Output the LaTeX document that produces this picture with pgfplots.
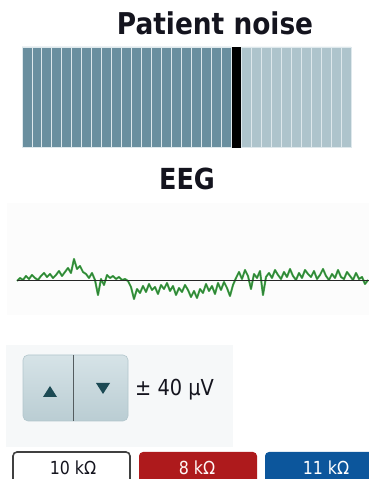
\documentclass[border=0pt]{standalone}
\usepackage{pgfplots}
\pgfplotsset{compat=1.18}
\usepackage{fontspec}
\setmainfont{DejaVu Sans}
\newfontfamily\uifont[FakeStretch=0.88]{DejaVu Sans}
\definecolor{bardark}{RGB}{106,143,159}
\definecolor{barlight}{RGB}{174,196,204}
\definecolor{barsep}{RGB}{222,232,236}
\definecolor{eeggreen}{RGB}{70,165,75}
\definecolor{eegdark}{RGB}{40,120,50}
\definecolor{panelbg}{RGB}{246,248,249}
\definecolor{btntop}{RGB}{214,227,231}
\definecolor{btnbot}{RGB}{186,205,211}
\definecolor{btnborder}{RGB}{178,198,204}
\definecolor{tri}{RGB}{28,74,84}
\definecolor{impred}{RGB}{174,26,28}
\definecolor{impblue}{RGB}{12,86,156}
\definecolor{textdark}{RGB}{20,20,30}
\pgfplotstableread{
x y
17 0
20 3
23 1
26 5
29 2
32 6
35 3
38 1
41 5
44 8
47 4
50 7
53 3
56 6
59 10
62 5
65 9
68 13
71 8
74 22
77 12
80 15
83 9
86 7
89 3
92 8
95 1
98 -14
101 2
104 -4
107 6
110 3
113 5
116 2
119 4
122 1
125 2
128 0
131 -6
134 -18
137 -8
140 -12
143 -5
146 -11
149 -3
152 -9
155 -6
158 -13
161 -4
164 -8
167 -2
170 -10
173 -5
176 -14
179 -7
182 -11
185 -4
188 -9
191 -16
194 -10
197 -17
200 -8
203 -12
206 -3
209 -10
212 -5
215 -13
218 -2
221 -9
224 -1
227 -7
230 -15
233 -4
236 3
239 9
242 2
245 11
248 5
251 -8
254 7
257 3
260 10
263 -14
266 4
269 8
272 3
275 11
278 6
281 2
284 9
287 4
290 12
293 5
296 1
299 8
302 3
305 11
308 7
311 4
314 10
317 2
320 6
323 12
326 5
329 1
332 7
335 3
338 11
341 4
344 2
347 9
350 5
353 1
356 8
359 2
362 4
365 -3
368 1
}\eegdata
\begin{document}
\begin{tikzpicture}[x=1pt,y=1pt]
\useasboundingbox (0,0) rectangle (369,479);
\clip (0,0) rectangle (369,479);
% title
\node[anchor=base, inner sep=0pt, text=textdark] at (215,444) {\uifont\bfseries\fontsize{30}{36}\selectfont Patient noise};
% noise meter
\begin{scope}[shift={(22pt,332pt)}]
\begin{axis}[at={(0pt,0pt)}, anchor=south west, scale only axis, width=329pt, height=100pt,
  xmin=0, xmax=33, ymin=0, ymax=1, hide axis, clip=false]
\addplot[ybar, bar width=1, bar shift=0, fill=bardark, draw=barsep, line width=0.9pt] coordinates {
(0.5,1) (1.5,1) (2.5,1) (3.5,1) (4.5,1) (5.5,1) (6.5,1) (7.5,1) (8.5,1) (9.5,1) (10.5,1)
(11.5,1) (12.5,1) (13.5,1) (14.5,1) (15.5,1) (16.5,1) (17.5,1) (18.5,1) (19.5,1) (20.5,1)};
\addplot[ybar, bar width=1, bar shift=0, fill=barlight, draw=barsep, line width=0.9pt] coordinates {
(22.5,1) (23.5,1) (24.5,1) (25.5,1) (26.5,1) (27.5,1) (28.5,1) (29.5,1) (30.5,1) (31.5,1) (32.5,1)};
\addplot[ybar, bar width=0.85, bar shift=0, fill=black, draw=black, line width=0.3pt] coordinates {(21.5,1)};
\end{axis}
\end{scope}
% EEG
\node[anchor=base, inner sep=0pt, text=textdark] at (187,289) {\uifont\bfseries\fontsize{29}{35}\selectfont EEG};
\fill[white!98!gray] (7,164) rectangle (369,276);
\begin{scope}[shift={(17pt,158pt)}]
\begin{axis}[at={(0pt,0pt)}, anchor=south west, scale only axis, width=352pt, height=80pt,
  xmin=17, xmax=369, ymin=-40, ymax=40, hide axis, clip=false]
\addplot[eeggreen, line width=2pt, line join=round] table[x=x,y=y] {\eegdata};
\addplot[eegdark, line width=0.6pt, line join=round] table[x=x,y=y] {\eegdata};
\addplot[black!85, line width=1pt] coordinates {(17,0) (369,0)};
\end{axis}
\end{scope}
% control panel
\fill[panelbg] (6,32) rectangle (233,134);
\shade[top color=btntop, bottom color=btnbot, rounded corners=5pt] (23,58) rectangle (128,124);
\draw[btnborder, rounded corners=5pt, line width=0.6pt] (23,58) rectangle (128,124);
\draw[black!55!btnbot, line width=0.9pt] (73,58) -- (73,124);
\fill[tri] (43,82) -- (57,82) -- (50,93) -- cycle;
\fill[tri] (96,96) -- (110,96) -- (103,85) -- cycle;
\node[anchor=base west, inner sep=0pt, text=textdark] at (135,83) {\uifont\fontsize{22}{26}\selectfont ± 40 µV};
% impedance boxes
\draw[black!75, fill=white, line width=1.6pt, rounded corners=4pt] (13,-10) rectangle (130,27);
\fill[impred, rounded corners=4pt] (139,-10) rectangle (257,27);
\fill[impblue, rounded corners=4pt] (265,-10) rectangle (385,27);
\node[anchor=base, inner sep=0pt, text=textdark] at (73,5) {\uifont\fontsize{18}{22}\selectfont 10 kΩ};
\node[anchor=base, inner sep=0pt, text=white!85!pink] at (197,5) {\uifont\fontsize{18}{22}\selectfont 8 kΩ};
\node[anchor=base, inner sep=0pt, text=white] at (326,5) {\uifont\fontsize{18}{22}\selectfont 11 kΩ};
\end{tikzpicture}
\end{document}
